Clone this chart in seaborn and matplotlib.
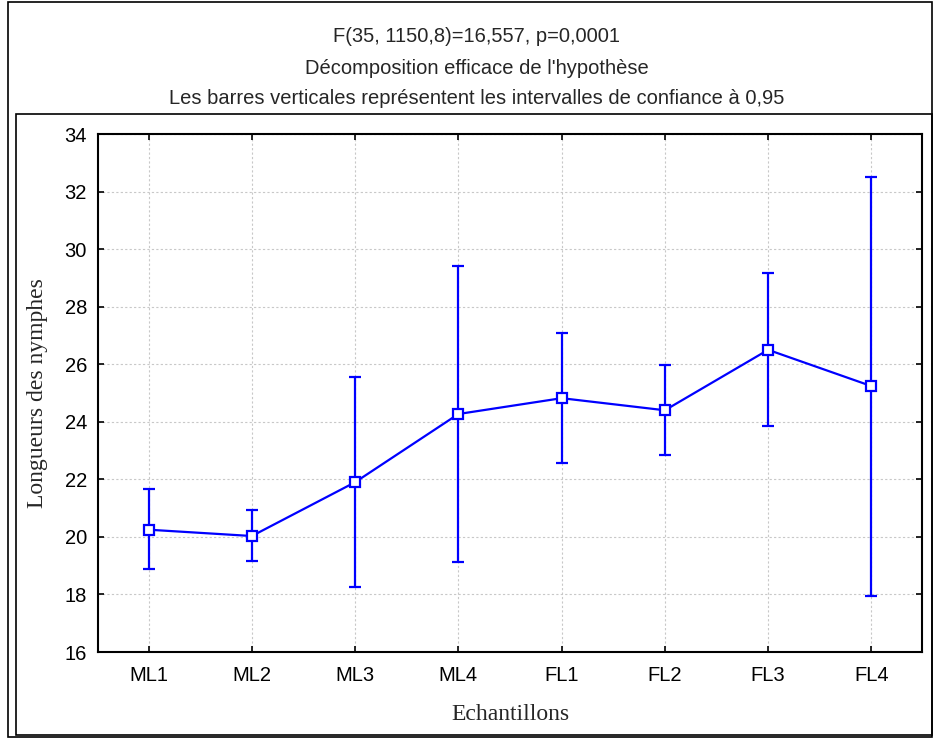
import numpy as np
import pandas as pd
import matplotlib
matplotlib.use("Agg")
import matplotlib.pyplot as plt
from matplotlib import font_manager
from matplotlib.patches import Rectangle
import seaborn as sns

categories = ["ML1", "ML2", "ML3", "ML4", "FL1", "FL2", "FL3", "FL4"]
means = [20.25, 20.03, 21.90, 24.27, 24.82, 24.40, 26.50, 25.24]
ci_low = [18.90, 19.17, 18.27, 19.14, 22.57, 22.86, 23.85, 17.94]
ci_high = [21.65, 20.94, 25.57, 29.42, 27.07, 25.97, 29.16, 32.49]
y_ticks = [16, 18, 20, 22, 24, 26, 28, 30, 32, 34]
title_lines = [
    "F(35, 1150,8)=16,557, p=0,0001",
    "Décomposition efficace de l'hypothèse",
    "Les barres verticales représentent les intervalles de confiance à 0,95",
]
x_label = "Echantillons"
y_label = "Longueurs des nymphes"

sns.set_theme(style="white")
plt.rcParams["font.family"] = ["Liberation Sans", "DejaVu Sans"]

df = pd.DataFrame({"cat": categories, "mean": means, "lo": ci_low, "hi": ci_high})
df["cat"] = pd.Categorical(df["cat"], categories=categories, ordered=True)

fig = plt.figure(figsize=(9.36, 7.40), dpi=100)
ax = fig.add_axes([98 / 936, 1 - 652 / 740, (922 - 98) / 936, (652 - 134) / 740])

blue = "#0000ff"
pos = np.arange(len(categories))
m = np.array(means)
yerr = np.vstack([m - np.array(ci_low), np.array(ci_high) - m])
ax.errorbar(pos, m, yerr=yerr, fmt="none", ecolor=blue, elinewidth=1.6,
            capsize=4.5, capthick=1.6, zorder=3)
sns.pointplot(data=df, x="cat", y="mean", color=blue, errorbar=None,
              markers="s", linestyles="-", ax=ax, zorder=4,
              markersize=7, linewidth=1.6,
              markerfacecolor="white", markeredgecolor=blue, markeredgewidth=1.6)

ax.set_xlim(-0.49, len(categories) - 0.51)
ax.set_ylim(16, 34)
ax.set_yticks(y_ticks)
ax.set_xticks(pos)
ax.set_xticklabels(categories)
ax.grid(True, linestyle=(0, (2, 2)), color="#c8c8c8", linewidth=0.8)
ax.set_axisbelow(True)
for s in ax.spines.values():
    s.set_visible(True)
    s.set_color("black")
    s.set_linewidth(1.5)
ax.tick_params(axis="both", which="both", direction="in", length=4, width=1.2,
               top=True, right=True, left=True, bottom=True, colors="black",
               labelsize=14.5)
ax.tick_params(axis="y", pad=8)
ax.tick_params(axis="x", pad=10)
ax.set_xlabel("")
ax.set_ylabel("")

fig.text(38 / 936, 1 - 393 / 740, y_label, rotation=90, ha="center", va="center",
         family=["Liberation Serif", "DejaVu Serif"], fontsize=17)
fig.text(510 / 936, 1 - 715 / 740, x_label, ha="center", va="center",
         family=["Liberation Serif", "DejaVu Serif"], fontsize=17)

for t, yy in zip(title_lines, [37, 68, 99]):
    fig.text(477 / 936, 1 - yy / 740, t, ha="center", va="center",
             family=["Liberation Sans", "DejaVu Sans"], fontsize=14.5)

fig.patches.append(Rectangle((8 / 936, 1 - 737 / 740), (932 - 8) / 936, (737 - 2) / 740,
                             transform=fig.transFigure, fill=False, edgecolor="black", linewidth=1.2))
fig.patches.append(Rectangle((16 / 936, 1 - 735 / 740), (932 - 16) / 936, (735 - 114) / 740,
                             transform=fig.transFigure, fill=False, edgecolor="black", linewidth=1.2))

fig.savefig("out.png", dpi=100, facecolor="white")
